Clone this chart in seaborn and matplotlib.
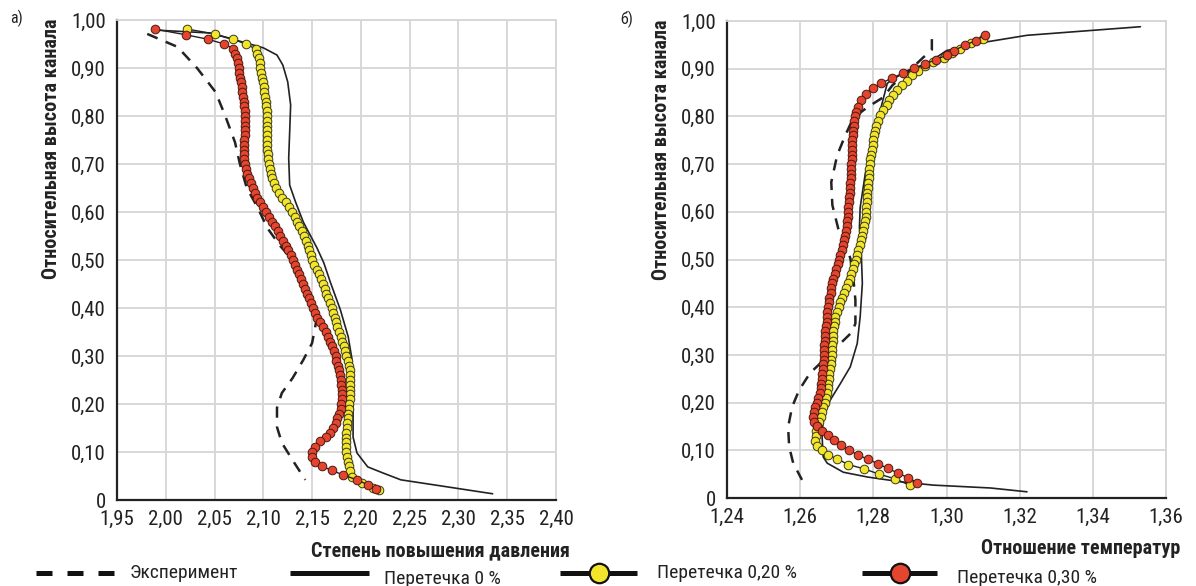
import matplotlib
matplotlib.use("Agg")
import matplotlib.pyplot as plt
from matplotlib import font_manager
from matplotlib.lines import Line2D
from matplotlib.ticker import FuncFormatter
import seaborn as sns

# ---------------------------------------------------------------- data
# (а) pressure ratio vs relative channel height
exp_a_x = [1.981, 2.012, 2.032, 2.051, 2.061, 2.071, 2.076, 2.083, 2.094, 2.104, 2.117,
           2.130, 2.143, 2.151, 2.154, 2.150, 2.141, 2.130, 2.119, 2.114, 2.114, 2.119,
           2.130, 2.143]
exp_a_y = [0.971, 0.944, 0.900, 0.850, 0.800, 0.745, 0.700, 0.650, 0.610, 0.567, 0.530,
           0.500, 0.450, 0.410, 0.370, 0.327, 0.292, 0.254, 0.223, 0.192, 0.152, 0.119,
           0.083, 0.042]

p0_a_x = [1.989, 2.045, 2.079, 2.100, 2.114, 2.120, 2.125, 2.128, 2.127, 2.126, 2.127,
          2.133, 2.141, 2.148, 2.155, 2.162, 2.169, 2.179, 2.187, 2.191, 2.192, 2.192,
          2.196, 2.207, 2.223, 2.241, 2.280, 2.335]
p0_a_y = [0.979, 0.973, 0.954, 0.942, 0.927, 0.906, 0.871, 0.823, 0.767, 0.712, 0.656,
          0.621, 0.579, 0.552, 0.525, 0.494, 0.452, 0.396, 0.340, 0.292, 0.208, 0.131,
          0.098, 0.069, 0.056, 0.042, 0.030, 0.013]

p20_a_y = [0.981, 0.971, 0.960, 0.950, 0.940,
           0.93, 0.92, 0.91, 0.90, 0.89, 0.88, 0.87, 0.86, 0.85, 0.84, 0.83, 0.82, 0.81,
           0.80, 0.79, 0.78, 0.77, 0.76, 0.75, 0.74, 0.73, 0.72, 0.71, 0.70, 0.69, 0.68,
           0.67, 0.66, 0.65, 0.64, 0.63, 0.62, 0.61, 0.60, 0.59, 0.58, 0.57, 0.56, 0.55,
           0.54, 0.53, 0.52, 0.51, 0.50, 0.49, 0.48, 0.47, 0.46, 0.45, 0.44, 0.43, 0.42,
           0.41, 0.40, 0.39, 0.38, 0.37, 0.36, 0.35, 0.34, 0.33, 0.32, 0.31, 0.30, 0.29,
           0.28, 0.27, 0.26, 0.25, 0.24, 0.23, 0.22, 0.21, 0.20, 0.19, 0.18, 0.17, 0.16,
           0.15, 0.14, 0.13, 0.12, 0.11, 0.10, 0.09, 0.08, 0.07, 0.06,
           0.048, 0.035, 0.025, 0.021]
p20_a_x = [2.022, 2.050, 2.069, 2.082, 2.092,
           2.094, 2.096, 2.097, 2.097, 2.098, 2.099, 2.100, 2.101, 2.101, 2.102, 2.103,
           2.103, 2.104, 2.104, 2.104, 2.104, 2.104, 2.104, 2.104, 2.104, 2.104, 2.105,
           2.105, 2.106, 2.107, 2.108, 2.109, 2.111, 2.113, 2.116, 2.119, 2.123, 2.126,
           2.129, 2.132, 2.135, 2.137, 2.140, 2.142, 2.144, 2.146, 2.147, 2.149, 2.150,
           2.152, 2.155, 2.157, 2.159, 2.161, 2.163, 2.164, 2.166, 2.168, 2.170, 2.171,
           2.173, 2.175, 2.176, 2.178, 2.180, 2.181, 2.183, 2.184, 2.185, 2.187, 2.188,
           2.189, 2.189, 2.189, 2.189, 2.189, 2.189, 2.189, 2.188, 2.188, 2.187, 2.187,
           2.186, 2.186, 2.185, 2.185, 2.185, 2.185, 2.185, 2.186, 2.187, 2.188, 2.189,
           2.191, 2.201, 2.212, 2.219]

p30_a_y = [0.981, 0.969, 0.960, 0.950, 0.940,
           0.93, 0.92, 0.91, 0.90, 0.89, 0.88, 0.87, 0.86, 0.85, 0.84, 0.83, 0.82, 0.81,
           0.80, 0.79, 0.78, 0.77, 0.76, 0.75, 0.74, 0.73, 0.72, 0.71, 0.70, 0.69, 0.68,
           0.67, 0.66, 0.65, 0.64, 0.63, 0.62, 0.61, 0.60, 0.59, 0.58, 0.57, 0.56, 0.55,
           0.54, 0.53, 0.52, 0.51, 0.50, 0.49, 0.48, 0.47, 0.46, 0.45, 0.44, 0.43, 0.42,
           0.41, 0.40, 0.39, 0.38, 0.37, 0.36, 0.35, 0.34, 0.33, 0.32, 0.31, 0.30, 0.29,
           0.28, 0.27, 0.26, 0.25, 0.24, 0.23, 0.22, 0.21, 0.20, 0.19, 0.18, 0.17, 0.16,
           0.15, 0.14,
           0.131, 0.122, 0.111, 0.100, 0.090, 0.079, 0.070, 0.062, 0.052, 0.042, 0.032,
           0.023]
p30_a_x = [1.989, 2.021, 2.043, 2.060, 2.069,
           2.071, 2.073, 2.074, 2.075, 2.075, 2.076, 2.077, 2.078, 2.078, 2.079, 2.080,
           2.080, 2.081, 2.081, 2.081, 2.081, 2.081, 2.081, 2.080, 2.080, 2.080, 2.080,
           2.080, 2.081, 2.082, 2.083, 2.085, 2.087, 2.089, 2.091, 2.094, 2.097, 2.100,
           2.103, 2.106, 2.109, 2.112, 2.115, 2.117, 2.120, 2.123, 2.125, 2.128, 2.130,
           2.132, 2.135, 2.137, 2.139, 2.141, 2.143, 2.145, 2.147, 2.149, 2.151, 2.153,
           2.155, 2.158, 2.161, 2.164, 2.166, 2.168, 2.170, 2.172, 2.174, 2.175, 2.177,
           2.178, 2.179, 2.180, 2.180, 2.181, 2.181, 2.181, 2.180, 2.180, 2.178, 2.176,
           2.174, 2.171, 2.168,
           2.164, 2.158, 2.153, 2.150, 2.150, 2.153, 2.160, 2.170, 2.182, 2.196, 2.207,
           2.215]

# (б) temperature ratio vs relative channel height
exp_b_x = [1.2960, 1.2960, 1.2937, 1.2893, 1.2852, 1.2827, 1.2800, 1.2773, 1.2745,
           1.2723, 1.2701, 1.2685, 1.2688, 1.2704, 1.2723, 1.2737, 1.2745, 1.2751,
           1.2751, 1.2742, 1.2710, 1.2674, 1.2627, 1.2597, 1.2578, 1.2567, 1.2570,
           1.2581, 1.2605]
exp_b_y = [0.962, 0.940, 0.924, 0.892, 0.865, 0.840, 0.827, 0.813, 0.796, 0.760, 0.718,
           0.662, 0.614, 0.565, 0.530, 0.503, 0.463, 0.415, 0.366, 0.348, 0.324, 0.296,
           0.262, 0.226, 0.191, 0.149, 0.107, 0.073, 0.038]

p0_b_x = [1.353, 1.322, 1.310, 1.300, 1.2948, 1.2893, 1.2847, 1.2838, 1.2814, 1.2792,
          1.2778, 1.2764, 1.2762, 1.2767, 1.2770, 1.2764, 1.2756, 1.2737, 1.2710, 1.2682,
          1.2663, 1.2660, 1.2663, 1.2674, 1.2718, 1.2784, 1.2874, 1.2964, 1.3120, 1.3220]
p0_b_y = [0.988, 0.970, 0.955, 0.938, 0.911, 0.896, 0.875, 0.869, 0.798, 0.729, 0.680,
          0.609, 0.568, 0.513, 0.450, 0.380, 0.324, 0.275, 0.240, 0.205, 0.170, 0.128,
          0.086, 0.073, 0.054, 0.044, 0.034, 0.027, 0.021, 0.013]

p20_b_y = [0.963, 0.953, 0.942, 0.932, 0.922, 0.913, 0.905, 0.896, 0.886, 0.875, 0.865,
           0.855, 0.844, 0.834, 0.823, 0.813, 0.802, 0.790,
           0.78, 0.77, 0.76, 0.75, 0.74, 0.73, 0.72, 0.71, 0.70, 0.69, 0.68, 0.67, 0.66,
           0.65, 0.64, 0.63, 0.62, 0.61, 0.60, 0.59, 0.58, 0.57, 0.56, 0.55, 0.54, 0.53,
           0.52, 0.51, 0.50, 0.49, 0.48, 0.47, 0.46, 0.45, 0.44, 0.43, 0.42, 0.41, 0.40,
           0.39, 0.38, 0.37, 0.36, 0.35, 0.34, 0.33, 0.32, 0.31, 0.30, 0.29, 0.28, 0.27,
           0.26, 0.25, 0.24, 0.23, 0.22, 0.21, 0.20, 0.19, 0.18, 0.17, 0.16, 0.15, 0.14,
           0.13, 0.12,
           0.110, 0.100, 0.090, 0.082, 0.070, 0.061, 0.050, 0.040, 0.027]
p20_b_x = [1.3100, 1.3066, 1.3038, 1.3016, 1.2992, 1.2964, 1.2942, 1.2923, 1.2907,
           1.2893, 1.2879, 1.2866, 1.2855, 1.2844, 1.2836, 1.2827, 1.2819, 1.2812,
           1.2808, 1.2805, 1.2802, 1.2800, 1.2798, 1.2796, 1.2794, 1.2792, 1.2791,
           1.2789, 1.2788, 1.2787, 1.2786, 1.2785, 1.2784, 1.2783, 1.2782, 1.2781,
           1.2780, 1.2779, 1.2777, 1.2775, 1.2772, 1.2769, 1.2766, 1.2763, 1.2759,
           1.2756, 1.2752, 1.2748, 1.2744, 1.2740, 1.2735, 1.2730, 1.2725, 1.2720,
           1.2714, 1.2709, 1.2705, 1.2700, 1.2696, 1.2694, 1.2692, 1.2691, 1.2690,
           1.2689, 1.2688, 1.2688, 1.2687, 1.2685, 1.2683, 1.2681, 1.2679, 1.2678,
           1.2677, 1.2675, 1.2673, 1.2670, 1.2667, 1.2663, 1.2660, 1.2657, 1.2652,
           1.2647, 1.2644, 1.2642, 1.2641,
           1.2645, 1.2660, 1.2677, 1.2701, 1.2732, 1.2775, 1.2816, 1.2860, 1.2899]

p30_b_y = [0.970, 0.959, 0.949, 0.938, 0.928, 0.919, 0.909, 0.901, 0.890, 0.880, 0.869,
           0.859, 0.848, 0.834,
           0.82, 0.81, 0.80, 0.79, 0.78, 0.77, 0.76, 0.75, 0.74, 0.73, 0.72, 0.71, 0.70,
           0.69, 0.68, 0.67, 0.66, 0.65, 0.64, 0.63, 0.62, 0.61, 0.60, 0.59, 0.58, 0.57,
           0.56, 0.55, 0.54, 0.53, 0.52, 0.51, 0.50, 0.49, 0.48, 0.47, 0.46, 0.45, 0.44,
           0.43, 0.42, 0.41, 0.40, 0.39, 0.38, 0.37, 0.36, 0.35, 0.34, 0.33, 0.32, 0.31,
           0.30, 0.29, 0.28, 0.27, 0.26, 0.25, 0.24, 0.23, 0.22, 0.21, 0.20, 0.19, 0.18,
           0.17, 0.16, 0.15,
           0.141, 0.132, 0.122, 0.111, 0.100, 0.090, 0.081, 0.072, 0.062, 0.052, 0.042,
           0.032]
p30_b_x = [1.3104, 1.3080, 1.3050, 1.3020, 1.3000, 1.2970, 1.2940, 1.2910, 1.2880,
           1.2850, 1.2820, 1.2800, 1.2780, 1.2765,
           1.2757, 1.2753, 1.2750, 1.2748, 1.2747, 1.2745, 1.2744, 1.2743, 1.2742,
           1.2742, 1.2741, 1.2741, 1.2740, 1.2740, 1.2739, 1.2738, 1.2737, 1.2736,
           1.2735, 1.2734, 1.2733, 1.2732, 1.2731, 1.2730, 1.2729, 1.2727, 1.2725,
           1.2723, 1.2721, 1.2718, 1.2713, 1.2710, 1.2707, 1.2703, 1.2699, 1.2695,
           1.2691, 1.2688, 1.2685, 1.2683, 1.2680, 1.2678, 1.2676, 1.2674, 1.2673,
           1.2672, 1.2670, 1.2669, 1.2668, 1.2667, 1.2666, 1.2665, 1.2664, 1.2664,
           1.2663, 1.2662, 1.2661, 1.2659, 1.2658, 1.2656, 1.2653, 1.2649, 1.2645,
           1.2641, 1.2638, 1.2636, 1.2637, 1.2645,
           1.2660, 1.2675, 1.2692, 1.2712, 1.2734, 1.2759, 1.2786, 1.2812, 1.2840,
           1.2868, 1.2896, 1.2920]

series_names = ["Эксперимент", "Перетечка 0 %", "Перетечка 0,20 %", "Перетечка 0,30 %"]
y_title = "Относительная высота канала"
x_title_a = "Степень повышения давления"
x_title_b = "Отношение температур"
panel_tags = ["а)", "б)"]
y_ticks = [0, 0.1, 0.2, 0.3, 0.4, 0.5, 0.6, 0.7, 0.8, 0.9, 1.0]
x_ticks_a = [1.95, 2.00, 2.05, 2.10, 2.15, 2.20, 2.25, 2.30, 2.35, 2.40]
x_ticks_b = [1.24, 1.26, 1.28, 1.30, 1.32, 1.34, 1.36]

# ---------------------------------------------------------------- style
sns.set_theme(style="whitegrid")
installed = {f.name for f in font_manager.fontManager.ttflist}
family = next((f for f in ["Liberation Sans Narrow", "Roboto Condensed", "Roboto"]
               if f in installed), "DejaVu Sans")
plt.rcParams["font.family"] = [family, "DejaVu Sans"]

GRID = "#d6d6d6"
INK = "#222222"
YELLOW = "#f2e52a"
RED = "#e5452f"

fig = plt.figure(figsize=(11.96, 5.86), dpi=100)
W, H = 1196, 586
ax_a = fig.add_axes([117 / W, (H - 500) / H, 439 / W, 480 / H])
ax_b = fig.add_axes([727 / W, (H - 498) / H, 439 / W, 477 / H])


def comma(zero_plain):
    def f(v, _pos):
        if zero_plain and abs(v) < 1e-9:
            return "0"
        return f"{v:.2f}".replace(".", ",")
    return f


def draw_panel(ax, ex, ey, p0x, p0y, p20x, p20y, p30x, p30y, xticks, xtitle, tag):
    sns.lineplot(x=ex, y=ey, ax=ax, sort=False, estimator=None, color=INK,
                 linewidth=1.8, linestyle=(0, (4.5, 3.5)), zorder=3)
    sns.lineplot(x=p0x, y=p0y, ax=ax, sort=False, estimator=None, color=INK,
                 linewidth=1.2, zorder=3)
    sns.lineplot(x=p20x, y=p20y, ax=ax, sort=False, estimator=None, color=INK,
                 linewidth=1.0, marker="o", markersize=6.2, markerfacecolor=YELLOW,
                 markeredgecolor="#3a3a1a", markeredgewidth=0.7, zorder=4)
    sns.lineplot(x=p30x, y=p30y, ax=ax, sort=False, estimator=None, color=INK,
                 linewidth=1.0, marker="o", markersize=6.2, markerfacecolor=RED,
                 markeredgecolor="#4a1a10", markeredgewidth=0.7, zorder=5)

    ax.set_xlim(xticks[0], xticks[-1])
    ax.set_ylim(0, 1.0)
    ax.set_xticks(xticks)
    ax.set_yticks(y_ticks)
    ax.xaxis.set_major_formatter(FuncFormatter(comma(False)))
    ax.yaxis.set_major_formatter(FuncFormatter(comma(True)))
    ax.grid(True, color=GRID, linewidth=1.3)
    ax.set_axisbelow(True)
    for side in ("top", "right"):
        ax.spines[side].set_color(GRID)
        ax.spines[side].set_linewidth(1.3)
    for side in ("left", "bottom"):
        ax.spines[side].set_color(INK)
        ax.spines[side].set_linewidth(1.6)
    ax.tick_params(axis="both", length=0, labelsize=15, colors=INK)
    ax.tick_params(axis="y", pad=8)
    ax.tick_params(axis="x", pad=7)
    ax.set_facecolor("white")

    ax.set_ylabel(y_title, fontsize=14.5, fontweight="bold", color=INK)
    ax.yaxis.label.set_rotation_mode("default")
    ax.yaxis.label.set_horizontalalignment("center")
    ax.yaxis.label.set_verticalalignment("top")
    ax.yaxis.set_label_coords(-0.150, 1.004)

    ax.set_xlabel(xtitle, fontsize=14.5, fontweight="bold", color=INK)
    ax.xaxis.label.set_horizontalalignment("right")
    ax.xaxis.label.set_verticalalignment("center")
    ax.xaxis.set_label_coords(1.032, -0.106)

    ax.text(-0.244, 1.004, tag, transform=ax.transAxes, fontsize=11.5, color=INK,
            ha="left", va="center")


draw_panel(ax_a, exp_a_x, exp_a_y, p0_a_x, p0_a_y, p20_a_x, p20_a_y, p30_a_x, p30_a_y,
           x_ticks_a, x_title_a, panel_tags[0])
draw_panel(ax_b, exp_b_x, exp_b_y, p0_b_x, p0_b_y, p20_b_x, p20_b_y, p30_b_x, p30_b_y,
           x_ticks_b, x_title_b, panel_tags[1])

# ---------------------------------------------------------------- legend row
def fx(px):
    return px / W


def fy(py):
    return 1 - py / H


legend_y = 573
samples = [
    dict(x0=36, x1=115, ls=(0, (3.2, 3.0)), face=None, text_x=130, text_dy=0),
    dict(x0=290, x1=369, ls="-", face=None, text_x=384, text_dy=6),
    dict(x0=560, x1=637, ls="-", face=YELLOW, text_x=657, text_dy=0),
    dict(x0=862, x1=937, ls="-", face=RED, text_x=957, text_dy=5),
]
for name, s in zip(series_names, samples):
    fig.add_artist(Line2D([fx(s["x0"]), fx(s["x1"])], [fy(legend_y), fy(legend_y)],
                          color="#111111", linewidth=3.6, linestyle=s["ls"],
                          solid_capstyle="butt", dash_capstyle="butt",
                          transform=fig.transFigure))
    if s["face"] is not None:
        mid = (s["x0"] + s["x1"]) / 2
        fig.add_artist(Line2D([fx(mid)], [fy(legend_y)], marker="o", markersize=14,
                              markerfacecolor=s["face"], markeredgecolor="#111111",
                              markeredgewidth=1.6, linestyle="none",
                              transform=fig.transFigure))
    fig.text(fx(s["text_x"]), fy(legend_y + s["text_dy"]), name, fontsize=14,
             color=INK, ha="left", va="center")

fig.savefig("out.png", dpi=100, facecolor="white")
